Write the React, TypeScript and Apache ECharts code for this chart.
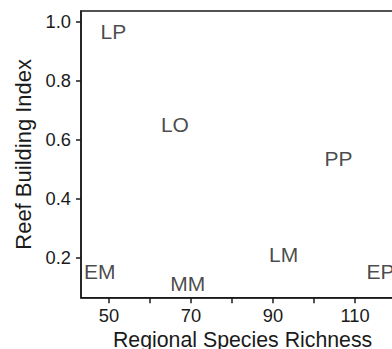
import React, { useEffect, useRef } from "react";
import * as echarts from "echarts";

const siteLabels = ["LP", "LO", "PP", "EM", "MM", "LM", "EP"];
const richness = [51.1, 66.1, 106.0, 47.8, 69.2, 92.6, 116.2];
const reefIndex = [0.968, 0.65, 0.537, 0.152, 0.112, 0.21, 0.153];
const xTicks = [50, 60, 70, 80, 90, 100, 110];
const xTickLabels = [50, 70, 90, 110];
const yTicks = [0.2, 0.4, 0.6, 0.8, 1.0];

const FONT = "'Liberation Sans', Arial, Helvetica, sans-serif";
const INK = "#1a1a1a";

export default function App() {
  const ref = useRef<HTMLDivElement>(null);
  useEffect(() => {
    document.body.style.margin = "0";
    if (!ref.current) return;
    const chart = echarts.init(ref.current, null, { renderer: "svg" });
    const data = siteLabels.map((name, i) => ({ name, value: [richness[i], reefIndex[i]] }));
    chart.setOption({
      animation: false,
      backgroundColor: "#ffffff",
      grid: {
        left: 81,
        top: 11,
        bottom: 51.3,
        right: -12.2,
        outerBoundsMode: "none",
        containLabel: false,
        show: true,
        borderColor: INK,
        borderWidth: 1.5,
        backgroundColor: "transparent",
      },
      xAxis: {
        type: "value",
        min: 43.2,
        max: 122,
        name: "Regional Species Richness",
        nameLocation: "middle",
        nameGap: 30.5,
        nameTextStyle: { fontFamily: FONT, fontSize: 21.3, color: INK },
        axisLine: { show: true, onZero: false, lineStyle: { color: INK, width: 1.5 } },
        axisTick: { show: true, inside: false, length: 5.5, customValues: xTicks, lineStyle: { color: INK, width: 1.5 } },
        axisLabel: {
          show: true,
          margin: 9,
          customValues: xTickLabels,
          fontFamily: FONT,
          fontSize: 18.3,
          color: INK,
          formatter: (v: number) => String(v),
        },
        splitLine: { show: false },
      },
      yAxis: {
        type: "value",
        min: 0.064,
        max: 1.036,
        name: "Reef Building Index",
        nameLocation: "middle",
        nameGap: 40,
        nameTextStyle: { fontFamily: FONT, fontSize: 22, color: INK },
        axisLine: { show: true, onZero: false, lineStyle: { color: INK, width: 1.5 } },
        axisTick: { show: true, inside: false, length: 5, customValues: yTicks, lineStyle: { color: INK, width: 1.5 } },
        axisLabel: {
          show: true,
          margin: 10,
          customValues: yTicks,
          fontFamily: FONT,
          fontSize: 18.3,
          color: INK,
          formatter: (v: number) => v.toFixed(1),
        },
        splitLine: { show: false },
      },
      series: [
        {
          type: "scatter",
          data,
          symbolSize: 1,
          itemStyle: { color: "transparent" },
          label: {
            show: true,
            position: "inside",
            formatter: (p: any) => p.name,
            fontFamily: FONT,
            fontSize: 21,
            color: INK,
          },
          clip: false,
        },
      ],
    });
    return () => chart.dispose();
  }, []);
  return <div ref={ref} style={{ width: 392, height: 349 }} />;
}
